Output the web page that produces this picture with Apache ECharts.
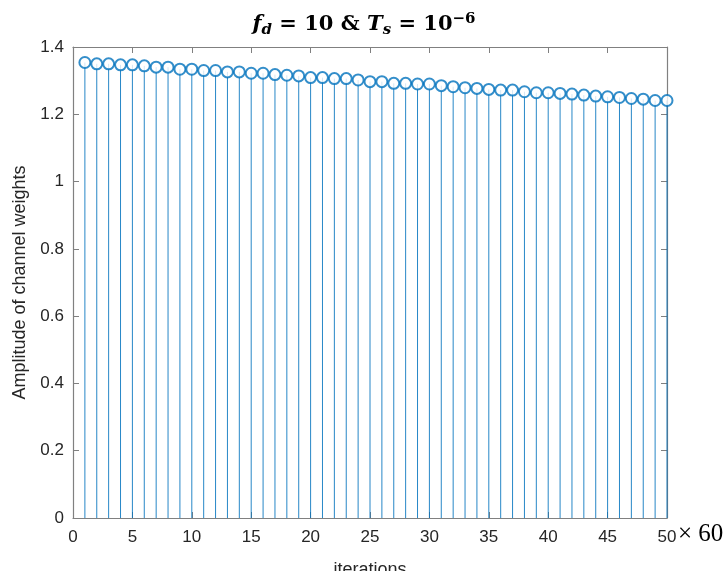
<!DOCTYPE html>
<html>
<head>
<meta charset="utf-8">
<script src="https://cdn.jsdelivr.net/npm/echarts@6/dist/echarts.min.js"></script>
<style>
  html, body { margin: 0; padding: 0; background: #fff; }
  #main { width: 728px; height: 571px; }
</style>
</head>
<body>
<div id="main"></div>
<script>
var chartDom = document.getElementById('main');
var myChart = echarts.init(chartDom);

// iterations (x 60)
const iterations = [];
for (let i = 1; i <= 50; i++) iterations.push(i);

// amplitude
const amplitude = [
  1.354, 1.350, 1.350, 1.347, 1.347, 1.344, 1.340, 1.340, 1.334, 1.334,
  1.330, 1.330, 1.326, 1.326, 1.322, 1.322, 1.318, 1.316, 1.314, 1.309,
  1.309, 1.306, 1.306, 1.302, 1.297, 1.297, 1.292, 1.292, 1.290, 1.290,
  1.285, 1.282, 1.279, 1.277, 1.274, 1.272, 1.272, 1.267, 1.264, 1.264,
  1.262, 1.260, 1.257, 1.254, 1.252, 1.250, 1.247, 1.245, 1.241, 1.241
];

const blue = '#0072BD';
const axisGray = '#808080';
const textColor = '#262626';

const points = iterations.map((it, i) => [it, amplitude[i]]);

// box axis (top / right) without labels
function boxLine() {
  return { show: true, onZero: false, lineStyle: { color: axisGray, width: 1.2 } };
}
function boxTick() {
  return { show: true, inside: true, length: 6, lineStyle: { color: axisGray } };
}

var option = {
  animation: false,
  backgroundColor: '#fff',
  title: {
    text: '{i|f}{s|d}{n| = 10 & }{i|T}{s|s}{n| = 10}{p|−6}',
    left: 'center',
    top: 7,
    textStyle: {
      rich: {
        i: { fontFamily: 'DejaVu Serif', fontStyle: 'italic', fontWeight: 'bold', fontSize: 21, color: '#000' },
        s: { fontFamily: 'DejaVu Serif', fontStyle: 'italic', fontWeight: 'bold', fontSize: 15, color: '#000', padding: [11, 0, 0, 0] },
        n: { fontFamily: 'DejaVu Serif', fontWeight: 'bold', fontSize: 21, color: '#000' },
        p: { fontFamily: 'DejaVu Serif', fontWeight: 'bold', fontSize: 15, color: '#000', padding: [0, 0, 11, 0] }
      }
    }
  },
  grid: { left: 73, right: 61, top: 47, bottom: 53, outerBoundsMode: 'none', containLabel: false },
  xAxis: [
    {
      type: 'value', min: 0, max: 50, interval: 5,
      name: 'iterations', nameLocation: 'middle', nameGap: 43,
      nameTextStyle: { fontFamily: 'Liberation Sans', fontSize: 18, color: textColor },
      axisLine: boxLine(),
      axisTick: boxTick(),
      axisLabel: { fontFamily: 'Liberation Sans', fontSize: 17, color: textColor, margin: 11 },
      splitLine: { show: false }
    },
    {
      type: 'value', min: 0, max: 50, interval: 5, position: 'top',
      axisLine: boxLine(),
      axisTick: boxTick(),
      axisLabel: { show: false },
      splitLine: { show: false }
    }
  ],
  yAxis: [
    {
      type: 'value', min: 0, max: 1.4, interval: 0.2,
      name: 'Amplitude of channel weights', nameLocation: 'middle', nameGap: 42,
      nameTextStyle: { fontFamily: 'Liberation Sans', fontSize: 18, color: textColor },
      axisLine: boxLine(),
      axisTick: boxTick(),
      axisLabel: {
        fontFamily: 'Liberation Sans', fontSize: 17, color: textColor, margin: 9,
        formatter: v => String(Math.round(v * 10) / 10)
      },
      splitLine: { show: false }
    },
    {
      type: 'value', min: 0, max: 1.4, interval: 0.2, position: 'right',
      axisLine: boxLine(),
      axisTick: boxTick(),
      axisLabel: { show: false },
      splitLine: { show: false }
    }
  ],
  series: [
    {
      type: 'custom',
      renderItem: function (params, api) {
        const top = api.coord([api.value(0), api.value(1)]);
        const base = api.coord([api.value(0), 0]);
        return {
          type: 'line',
          shape: { x1: top[0], y1: top[1], x2: base[0], y2: base[1] },
          style: { stroke: blue, lineWidth: 1, opacity: 0.85 }
        };
      },
      encode: { x: 0, y: 1 },
      data: points,
      z: 2
    },
    {
      type: 'scatter',
      symbol: 'emptyCircle',
      symbolSize: 11,
      itemStyle: { color: blue, borderColor: blue, borderWidth: 1.6 },
      data: points,
      z: 3
    }
  ],
  graphic: [
    {
      type: 'text',
      left: 678,
      top: 522,
      style: { text: '× 60', fontFamily: 'Liberation Serif', fontSize: 25, fill: '#000' }
    }
  ]
};

option && myChart.setOption(option);
</script>
</body>
</html>
